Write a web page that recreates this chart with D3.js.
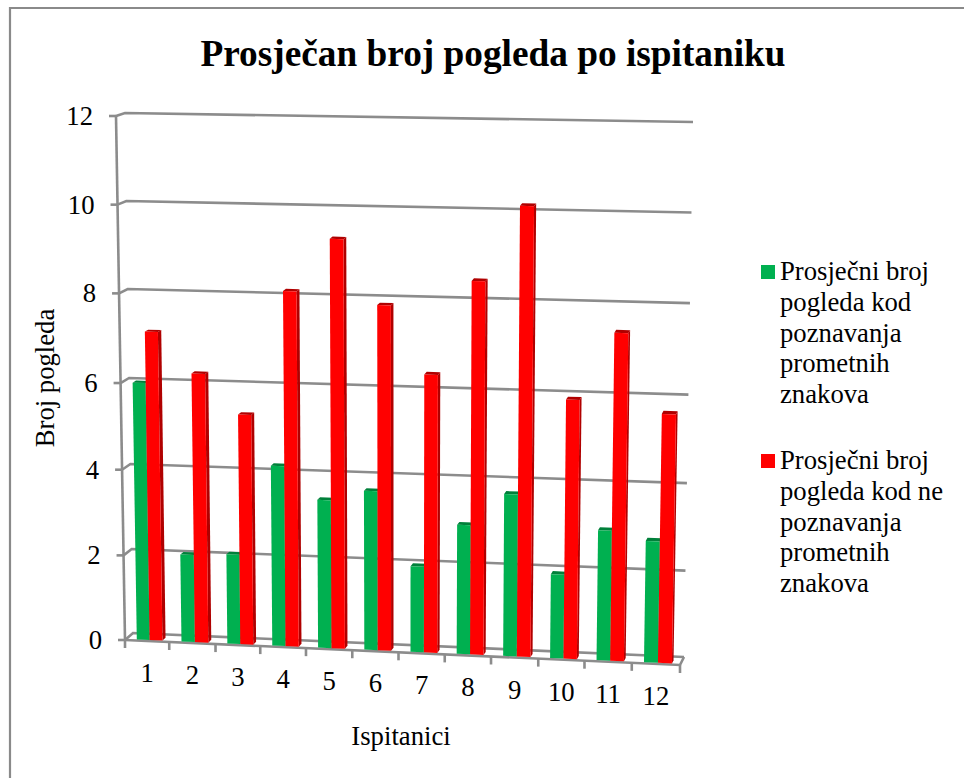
<!DOCTYPE html>
<html>
<head>
<meta charset="utf-8">
<script src="https://cdn.jsdelivr.net/npm/d3@7"></script>
<style>
  html, body { margin: 0; padding: 0; background: #fff; }
  text { font-family: "Liberation Serif", serif; fill: #000; }
</style>
</head>
<body>
<div id="chart"></div>
<script>
const W = 964, H = 778

const categories = ["1", "2", "3", "4", "5", "6", "7", "8", "9", "10", "11", "12"]
const valueTicks = [0, 2, 4, 6, 8, 10, 12]
const greenValues = [6.0, 2.05, 2.1, 4.2, 3.45, 3.7, 2.0, 3.0, 3.75, 1.95, 3.0, 2.8]
const redValues = [7.15, 6.25, 5.35, 8.15, 9.35, 7.9, 6.4, 8.5, 10.2, 5.95, 7.45, 5.7]
const seriesNames = [
  ["Prosječni broj", "pogleda kod", "poznavanja", "prometnih", "znakova"],
  ["Prosječni broj", "pogleda kod ne", "poznavanja", "prometnih", "znakova"]
]
const COLORS = { green: "#00b050", greenDark: "#00803a", red: "#ff0000", redDark: "#b00000", grid: "#8c8c8c" }

// the chart is a skewed 3d box, u = category position, v = value, depth 0 front, 1 back wall
// both scales are a bit uneven, the box has some perspective
const uScale = d3.scaleLinear()
  .domain(d3.range(0, categories.length + 1))
  .range([0, 0.0797, 0.1631, 0.2437, 0.3261, 0.4095, 0.4928, 0.5761, 0.6595, 0.7446, 0.8279, 0.9131, 1])
const vScale = d3.scaleLinear().domain(valueTicks).range([0, 0.1615, 0.325, 0.4904, 0.6615, 0.8308, 1])
const frontLeftX = d3.scaleLinear().domain([0, 1]).range([125, 116])
const frontRightX = d3.scaleLinear().domain([0, 1]).range([680, 689])
const frontLeftY = d3.scaleLinear().domain([0, 1]).range([640, 116])
const frontRightY = d3.scaleLinear().domain([0, 1]).range([665, 130])
const backLeftX = d3.scaleLinear().domain([0, 1]).range([133, 125])
const backRightX = d3.scaleLinear().domain([0, 1]).range([684, 693])
const backLeftY = d3.scaleLinear().domain([0, 1]).range([633, 113])
const backRightY = d3.scaleLinear().domain([0, 1]).range([657, 122])

function project(u, value, depth) {
  const t = uScale(u), v = vScale(value)
  const fx = d3.interpolateNumber(frontLeftX(v), frontRightX(v))(t)
  const fy = d3.interpolateNumber(frontLeftY(v), frontRightY(v))(t)
  const bx = d3.interpolateNumber(backLeftX(v), backRightX(v))(t)
  const by = d3.interpolateNumber(backLeftY(v), backRightY(v))(t)
  return [fx + (bx - fx) * depth, fy + (by - fy) * depth]
}

const line = d3.line()
const poly = pts => line(pts) + "Z"

const svg = d3.select("#chart").append("svg")
  .attr("width", W)
  .attr("height", H)
  .style("display", "block")

// outer frame
svg.append("path")
  .attr("d", `M10,${H}V8H${W}`)
  .attr("fill", "none")
  .attr("stroke", "#8a8a8a")
  .attr("stroke-width", 2.2)

svg.append("text")
  .attr("x", 493)
  .attr("y", 66)
  .attr("text-anchor", "middle")
  .attr("font-size", 37.3)
  .attr("font-weight", "bold")
  .text("Prosječan broj pogleda po ispitaniku")

// gridlines and left wall
const grid = svg.append("g").attr("fill", "none").attr("stroke", COLORS.grid).attr("stroke-width", 2.6)
valueTicks.forEach(v => {
  grid.append("path").attr("d", line([project(0, v, 0), project(0, v, 1), project(12, v, 1)]))
  const p = project(0, v, 0)
  grid.append("path").attr("d", line([[p[0] - 7, p[1]], p]))
})
grid.append("path").attr("d", line([project(0, 0, 0), project(0, 12, 0)]))
grid.append("path").attr("d", line([project(0, 0, 0), project(12, 0, 0), project(12, 0, 1)]))
d3.range(0, 13).forEach(i => {
  const p = project(i, 0, 0)
  grid.append("path").attr("d", line([p, [p[0], p[1] + 8]]))
})

// one bar: front, top and side faces
const BAR_D0 = 0.15, BAR_D1 = 0.55
function drawBar(g, u0, u1, value, fill, dark) {
  g.append("path").attr("fill", dark)
    .attr("d", poly([project(u1, 0, BAR_D0), project(u1, 0, BAR_D1), project(u1, value, BAR_D1), project(u1, value, BAR_D0)]))
  g.append("path").attr("fill", dark)
    .attr("d", poly([project(u0, value, BAR_D0), project(u0, value, BAR_D1), project(u1, value, BAR_D1), project(u1, value, BAR_D0)]))
  g.append("path").attr("fill", fill)
    .attr("d", poly([project(u0, 0, BAR_D0), project(u1, 0, BAR_D0), project(u1, value, BAR_D0), project(u0, value, BAR_D0)]))
}

const bars = svg.append("g")
categories.forEach((c, i) => {
  const g = bars.append("g")
  drawBar(g, i + 0.24, i + 0.53, greenValues[i], COLORS.green, COLORS.greenDark)
  drawBar(g, i + 0.53, i + 0.82, redValues[i], COLORS.red, COLORS.redDark)
})

// tick labels
svg.append("g").selectAll("text")
  .data(valueTicks)
  .join("text")
    .attr("x", v => project(0, v, 0)[0] - 23)
    .attr("y", v => project(0, v, 0)[1] + 9)
    .attr("text-anchor", "end")
    .attr("font-size", 26.7)
    .text(v => v)

svg.append("g").selectAll("text")
  .data(categories)
  .join("text")
    .attr("x", (c, i) => project(i + 0.5, 0, 0)[0])
    .attr("y", (c, i) => project(i + 0.5, 0, 0)[1] + 41)
    .attr("text-anchor", "middle")
    .attr("font-size", 26.7)
    .text(c => c)

svg.append("text")
  .attr("transform", "translate(54,378) rotate(-90)")
  .attr("text-anchor", "middle")
  .attr("font-size", 26.7)
  .text("Broj pogleda")

svg.append("text")
  .attr("x", 401)
  .attr("y", 745)
  .attr("text-anchor", "middle")
  .attr("font-size", 26.7)
  .text("Ispitanici")

// legend
const legendTop = [280, 469], legendColors = [COLORS.green, COLORS.red]
seriesNames.forEach((lines, s) => {
  const g = svg.append("g")
  g.append("rect")
    .attr("x", 761).attr("y", legendTop[s] - 15)
    .attr("width", 14).attr("height", 14)
    .attr("fill", legendColors[s])
  g.selectAll("text")
    .data(lines)
    .join("text")
      .attr("x", 780)
      .attr("y", (d, i) => legendTop[s] + i * 30.8)
      .attr("font-size", 26.7)
      .text(d => d)
})
</script>
</body>
</html>
